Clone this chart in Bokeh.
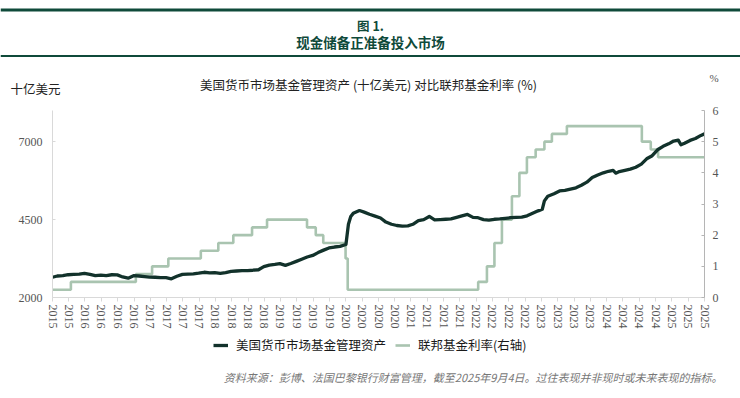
import pandas as pd
from bokeh.plotting import figure
from bokeh.layouts import column
from bokeh.models import (Range1d, LinearAxis, FixedTicker, DatetimeTickFormatter,
                          Label, Legend, LegendItem, ColumnDataSource)
from bokeh.embed import file_html
from bokeh.resources import INLINE

# ---------------- data ----------------
mmf_dates = [
    "2015-09-04", "2015-10-01", "2015-11-01", "2015-12-01", "2016-01-01", "2016-02-01",
    "2016-03-01", "2016-04-01", "2016-05-01", "2016-06-01", "2016-07-01", "2016-08-01",
    "2016-09-01", "2016-10-01", "2016-11-01", "2016-12-01", "2017-01-01", "2017-02-01",
    "2017-03-01", "2017-04-01", "2017-05-01", "2017-06-01", "2017-07-01", "2017-08-01",
    "2017-09-01", "2017-10-01", "2017-11-01", "2017-12-01", "2018-01-01", "2018-02-01",
    "2018-03-01", "2018-04-01", "2018-05-01", "2018-06-01", "2018-07-01", "2018-08-01",
    "2018-09-01", "2018-10-01", "2018-11-01", "2018-12-01", "2019-01-01", "2019-02-01",
    "2019-03-01", "2019-04-01", "2019-05-01", "2019-06-01", "2019-07-01", "2019-08-01",
    "2019-09-01", "2019-10-01", "2019-11-01", "2019-12-01", "2020-01-01", "2020-02-01",
    "2020-03-05", "2020-03-19", "2020-04-01", "2020-04-15", "2020-05-20", "2020-06-15",
    "2020-07-15", "2020-08-15", "2020-09-15", "2020-10-15", "2020-11-15", "2020-12-15",
    "2021-01-15", "2021-02-15", "2021-03-15", "2021-04-15", "2021-05-15", "2021-06-15",
    "2021-07-15", "2021-08-15", "2021-09-15", "2021-10-15", "2021-11-15", "2021-12-15",
    "2022-01-15", "2022-02-15", "2022-03-15", "2022-04-15", "2022-05-15", "2022-06-15",
    "2022-07-15", "2022-08-15", "2022-09-15", "2022-10-15", "2022-11-15", "2022-12-15",
    "2023-01-15", "2023-02-15", "2023-03-10", "2023-03-22", "2023-04-10", "2023-05-15",
    "2023-06-15", "2023-07-15", "2023-08-15", "2023-09-15", "2023-10-15", "2023-11-15",
    "2023-12-15", "2024-01-15", "2024-02-15", "2024-03-15", "2024-04-10", "2024-04-25",
    "2024-05-15", "2024-06-15", "2024-07-15", "2024-08-15", "2024-09-15", "2024-10-15",
    "2024-11-15", "2024-12-15", "2025-01-15", "2025-02-15", "2025-03-15", "2025-04-10",
    "2025-04-25", "2025-05-15", "2025-06-15", "2025-07-15", "2025-08-15", "2025-09-04",
]
mmf_values = [
    2650, 2690, 2700, 2730, 2740, 2750,
    2775, 2740, 2700, 2720, 2705, 2730,
    2725, 2660, 2620, 2700, 2690, 2670,
    2655, 2650, 2640, 2635, 2600, 2680,
    2740, 2750, 2760, 2780, 2810, 2790,
    2800, 2775, 2800, 2840, 2850, 2860,
    2865, 2875, 2890, 2990, 3040, 3060,
    3085, 3030, 3090, 3160, 3230, 3300,
    3350, 3440, 3520, 3590, 3620, 3640,
    3700, 4350, 4600, 4700, 4790, 4740,
    4670, 4610, 4550, 4420, 4350, 4310,
    4290, 4300, 4350, 4470, 4500, 4600,
    4490, 4500, 4510, 4520, 4570, 4620,
    4665, 4570, 4560, 4500, 4480, 4510,
    4520, 4540, 4560, 4570, 4580, 4620,
    4700, 4780, 4830, 5100, 5250, 5330,
    5420, 5440, 5480, 5520, 5600, 5700,
    5850, 5930, 6000, 6050, 6080, 5990,
    6040, 6080, 6120, 6180, 6280, 6450,
    6550, 6740, 6850, 6930, 7020, 7050,
    6900, 6950, 7040, 7100, 7200, 7250,
]

rate_dates = [
    "2015-09-04", "2015-12-16", "2016-12-14", "2017-03-15", "2017-06-14", "2017-12-13",
    "2018-03-21", "2018-06-13", "2018-09-26", "2018-12-19", "2019-07-31", "2019-09-18",
    "2019-10-30", "2020-03-03", "2020-03-15", "2022-03-16", "2022-05-04", "2022-06-15",
    "2022-07-27", "2022-09-21", "2022-11-02", "2022-12-14", "2023-02-01", "2023-03-22",
    "2023-05-03", "2023-07-26", "2024-09-18", "2024-11-07", "2024-12-18", "2025-09-04",
]
rate_values = [
    0.25, 0.50, 0.75, 1.00, 1.25, 1.50,
    1.75, 2.00, 2.25, 2.50, 2.25, 2.00,
    1.75, 1.25, 0.25, 0.50, 1.00, 1.75,
    2.50, 3.25, 4.00, 4.50, 4.75, 5.00,
    5.25, 5.50, 5.00, 4.75, 4.50, 4.50,
]

left_ticks = [2000, 4500, 7000]
right_ticks = [0, 1, 2, 3, 4, 5, 6]
x_start, x_end = "2015-09-04", "2025-09-04"

title_line1 = "图 1."
title_line2 = "现金储备正准备投入市场"
subtitle = "美国货币市场基金管理资产 (十亿美元) 对比联邦基金利率 (%)"
left_unit = "十亿美元"
right_unit = "%"
legend_mmf = "美国货币市场基金管理资产"
legend_rate = "联邦基金利率(右轴)"
source_text = "资料来源：彭博、法国巴黎银行财富管理，截至2025年9月4日。过往表现并非现时或未来表现的指标。"

# ---------------- style ----------------
DARK = "#12322b"
SAGE = "#a9c4b0"
TITLE_GREEN = "#0f4a3a"
CJK = "Noto Sans CJK SC"
SERIF = "Liberation Serif"
W = 740
H_HEAD, H_MAIN, H_FOOT = 102, 233, 63
NAN = float("nan")


def ms(d):
    return (pd.Timestamp(d) - pd.Timestamp("1970-01-01")).total_seconds() * 1000.0


def blank(height, y0, y1):
    f = figure(width=W, height=height, x_range=Range1d(0, W), y_range=Range1d(y1, y0),
               output_backend="svg", toolbar_location=None, x_axis_location=None,
               y_axis_location=None, min_border=0)
    if hasattr(f, "frame_align"):
        f.frame_align = False
    f.outline_line_color = None
    f.xgrid.visible = False
    f.ygrid.visible = False
    f.background_fill_color = "white"
    f.border_fill_color = "white"
    return f


def lab(f, text, x, y, size, color, align="center", style="normal", font=CJK):
    f.add_layout(Label(x=x, y=y, text=text, text_font=font, text_font_size=size,
                       text_color=color, text_align=align, text_baseline="middle",
                       text_font_style=style))


# ---------------- header ----------------
head = blank(H_HEAD, 0, H_HEAD)
head.quad(left=0, right=W, top=8, bottom=11, fill_color=TITLE_GREEN, line_alpha=0)
head.quad(left=0, right=W, top=54.5, bottom=56.5, fill_color=TITLE_GREEN, line_alpha=0)
lab(head, title_line1, 370, 25, "12.5px", TITLE_GREEN, style="bold")
lab(head, title_line2, 370, 41, "13.5px", TITLE_GREEN, style="bold")
lab(head, left_unit, 10, 88, "12.5px", "#222222", align="left")
lab(head, subtitle, 368, 84, "12.5px", "#222222")
lab(head, right_unit, 709, 77, "11px", "#555555", align="left", font=SERIF)

# ---------------- main chart ----------------
x_ticks = [ms(d) for d in pd.date_range(x_start, periods=41, freq=pd.DateOffset(months=3))]

p = figure(width=W, height=H_MAIN, x_axis_type="datetime", output_backend="svg",
           toolbar_location=None, min_border_left=52, min_border_right=36,
           min_border_top=8, min_border_bottom=38)
if hasattr(p, "frame_align"):
    p.frame_align = False
p.x_range = Range1d(ms(x_start), ms(x_end))
p.y_range = Range1d(2000, 8000)
p.extra_y_ranges = {"rate": Range1d(0, 6)}
p.outline_line_color = None
p.xgrid.visible = False
p.ygrid.visible = False
p.background_fill_color = "white"
p.border_fill_color = "white"

xa = p.xaxis[0]
xa.ticker = FixedTicker(ticks=x_ticks)
xa.formatter = DatetimeTickFormatter(milliseconds="%Y", seconds="%Y", minsec="%Y", minutes="%Y",
                                     hourmin="%Y", hours="%Y", days="%Y", months="%Y", years="%Y")
xa.major_label_orientation = "vertical"
xa.axis_line_color = "#d9d9d9"
xa.major_tick_line_color = "#d9d9d9"
xa.major_tick_out = 4
xa.major_tick_in = 0
xa.minor_tick_line_color = None
xa.major_label_standoff = 3
xa.major_label_text_font = SERIF
xa.major_label_text_font_size = "12px"
xa.major_label_text_color = "#555555"

ya = p.yaxis[0]
ya.ticker = FixedTicker(ticks=left_ticks)
ya.axis_line_color = "#d9d9d9"
ya.major_tick_line_color = "#d9d9d9"
ya.major_tick_in = 3
ya.major_tick_out = 0
ya.minor_tick_line_color = None
ya.major_label_standoff = 10
ya.major_label_text_font = SERIF
ya.major_label_text_font_size = "12px"
ya.major_label_text_color = "#555555"

ra = LinearAxis(y_range_name="rate", ticker=FixedTicker(ticks=right_ticks))
ra.axis_line_color = "#b5b5b5"
ra.major_tick_line_color = "#b5b5b5"
ra.major_tick_in = 3
ra.major_tick_out = 0
ra.minor_tick_line_color = None
ra.major_label_standoff = 8
ra.major_label_text_font = SERIF
ra.major_label_text_font_size = "12px"
ra.major_label_text_color = "#555555"
p.add_layout(ra, "right")

rate_src = ColumnDataSource(dict(x=[pd.Timestamp(d) for d in rate_dates], y=rate_values))
mmf_src = ColumnDataSource(dict(x=[pd.Timestamp(d) for d in mmf_dates], y=mmf_values))
p.step("x", "y", source=rate_src, mode="after", y_range_name="rate",
       line_color=SAGE, line_width=2.6)
p.line("x", "y", source=mmf_src, line_color=DARK, line_width=3.3, line_join="round")

# ---------------- footer: legend + source ----------------
foot = blank(H_FOOT, 335, 398)
g_mmf = foot.line(x=[NAN], y=[NAN], line_color=DARK, line_width=3.3)
g_rate = foot.line(x=[NAN], y=[NAN], line_color=SAGE, line_width=2.6)
legend = Legend(items=[LegendItem(label=legend_mmf, renderers=[g_mmf]),
                       LegendItem(label=legend_rate, renderers=[g_rate])],
                orientation="horizontal", location=(213, 398 - 354),
                border_line_alpha=0, background_fill_alpha=0,
                glyph_width=15, glyph_height=16, label_standoff=8, spacing=9,
                padding=0, margin=0, label_text_font=CJK,
                label_text_font_size="12.5px", label_text_color="#1a1a1a",
                label_height=16)
foot.add_layout(legend)
lab(foot, source_text, 722, 376, "11px", "#777777", align="right", style="italic")

layout = column(head, p, foot, spacing=0)
open("out.html", "w").write(file_html(layout, INLINE))
